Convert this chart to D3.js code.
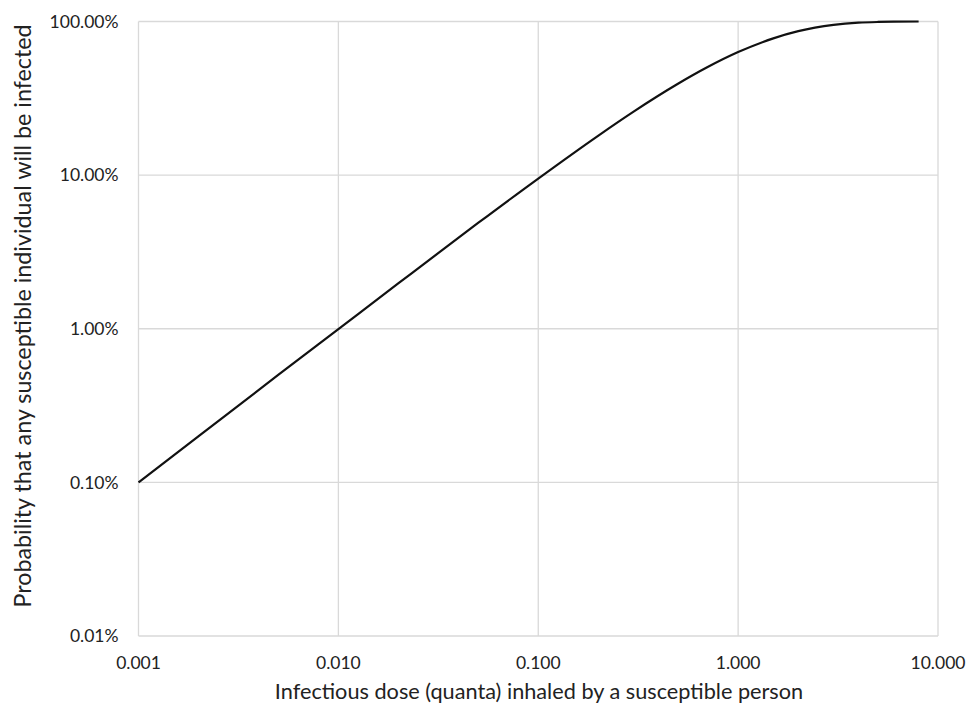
<!DOCTYPE html>
<meta charset="utf-8">
<style>
body { margin: 0; background: #fff; }
text { font-family: Lato, "Open Sans", sans-serif; fill: #222; }
.grid line { stroke: #d9d9d9; stroke-width: 1.3; }
.curve { fill: none; stroke: #111; stroke-width: 2.2; }
</style>
<body>
<script src="https://cdnjs.cloudflare.com/ajax/libs/d3/7.8.5/d3.min.js"></script>
<script>
// dose (quanta) and the probability at that dose
var dose = [0.001, 0.002, 0.005, 0.01, 0.02, 0.05, 0.1, 0.2, 0.3, 0.5, 0.7, 1, 1.5, 2, 3, 4, 5, 6, 8];
var prob = [0.001, 0.002, 0.005, 0.00995, 0.0198, 0.0488, 0.095, 0.181, 0.259, 0.393, 0.503, 0.632, 0.777, 0.865, 0.95, 0.982, 0.993, 0.9975, 0.9997];

var xTicks = [0.001, 0.01, 0.1, 1, 10];
var yTicks = [0.0001, 0.001, 0.01, 0.1, 1];

var width = 971, height = 705;
var margin = {top: 21.5, right: 33, bottom: 69, left: 138.5};

var svg = d3.select("body").append("svg")
  .attr("width", width)
  .attr("height", height);

var x = d3.scaleLog().domain([0.001, 10]).range([margin.left, width - margin.right]);
var y = d3.scaleLog().domain([0.0001, 1]).range([height - margin.bottom, margin.top]);

// gridlines
var grid = svg.append("g").attr("class", "grid");
grid.selectAll(".vx").data(xTicks).enter().append("line")
  .attr("x1", function(d) { return x(d); }).attr("x2", function(d) { return x(d); })
  .attr("y1", y(1)).attr("y2", y(0.0001));
grid.selectAll(".hy").data(yTicks).enter().append("line")
  .attr("y1", function(d) { return y(d); }).attr("y2", function(d) { return y(d); })
  .attr("x1", x(0.001)).attr("x2", x(10));

// tick labels
svg.selectAll(".xl").data(xTicks).enter().append("text")
  .attr("x", function(d) { return x(d); })
  .attr("y", y(0.0001) + 33)
  .attr("text-anchor", "middle")
  .style("font-size", "17.5px")
  .text(function(d) { return d3.format(".3f")(d); });

svg.selectAll(".yl").data(yTicks).enter().append("text")
  .attr("x", margin.left - 20)
  .attr("y", function(d) { return y(d); })
  .attr("dy", "0.35em")
  .attr("text-anchor", "end")
  .style("font-size", "17.5px")
  .text(function(d) { return d3.format(".2%")(d); });

// the curve
var pts = dose.map(function(d, i) { return [d, prob[i]]; });
var line = d3.line()
  .x(function(d) { return x(d[0]); })
  .y(function(d) { return y(d[1]); })
  .curve(d3.curveMonotoneX);
svg.append("path").datum(pts).attr("class", "curve").attr("d", line);

// axis titles
svg.append("text")
  .attr("x", 539)
  .attr("y", 699)
  .attr("text-anchor", "middle")
  .style("font-size", "21.7px")
  .text("Infectious dose (quanta) inhaled by a susceptible person");

svg.append("text")
  .attr("transform", "translate(31,316) rotate(-90)")
  .attr("text-anchor", "middle")
  .style("font-size", "23.3px")
  .text("Probability that any susceptible individual will be infected");
</script>
</body>
